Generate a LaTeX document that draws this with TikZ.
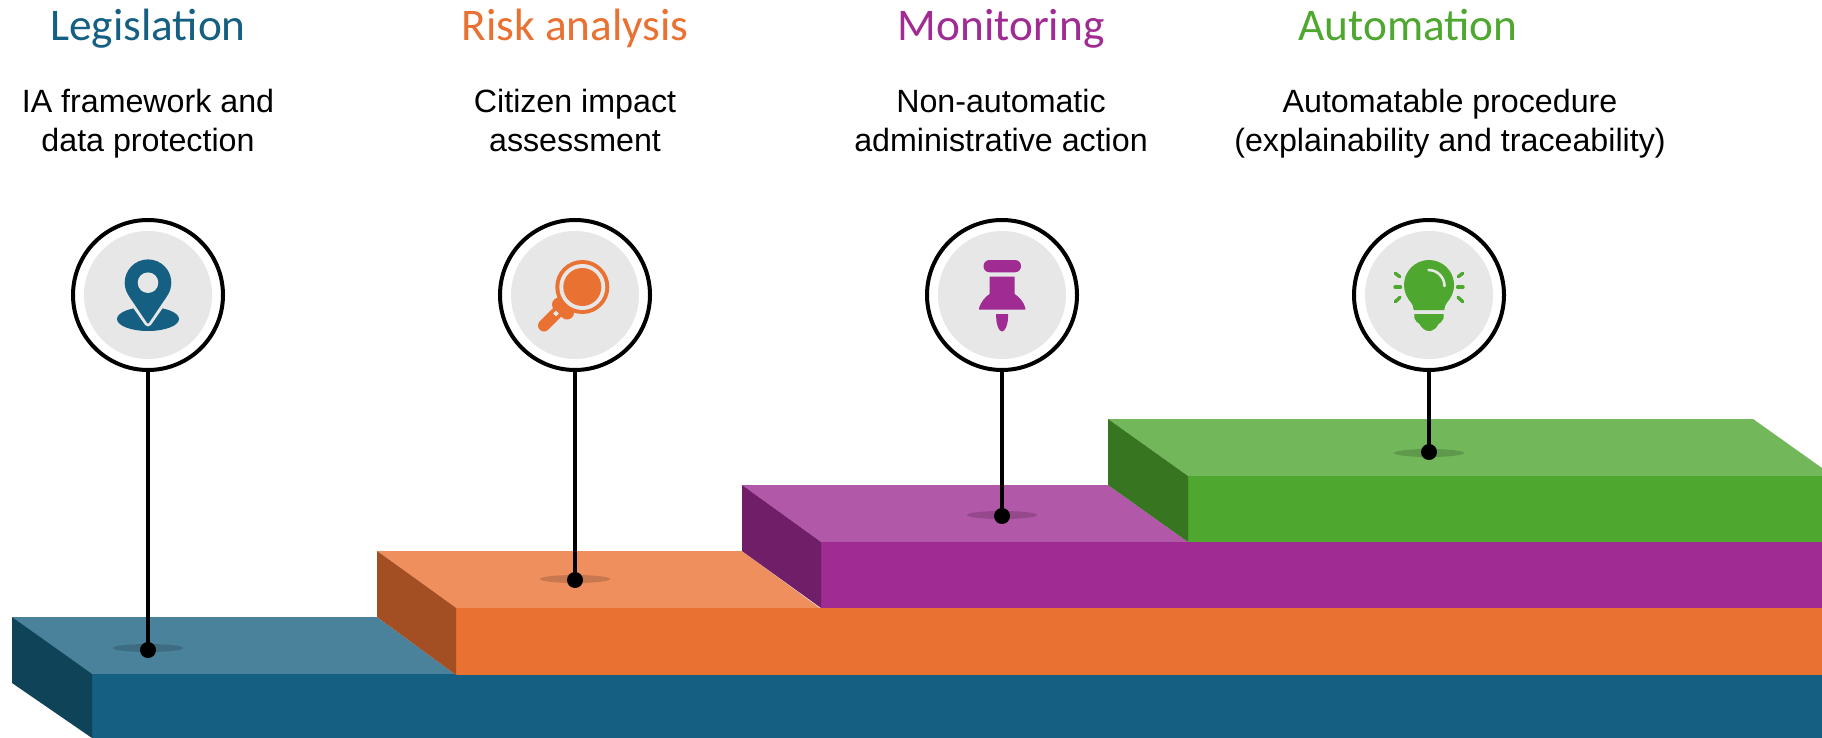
\documentclass[tikz,border=0pt]{standalone}
\usepackage{fontspec}
\setmainfont{Liberation Sans}
\newfontfamily\headfont{Carlito}
\definecolor{cblue}{HTML}{156082}
\definecolor{cbluet}{HTML}{4A829C}
\definecolor{cblued}{HTML}{0F4458}
\definecolor{corange}{HTML}{E97132}
\definecolor{coranget}{HTML}{EF8F5D}
\definecolor{coranged}{HTML}{A34F23}
\definecolor{cpurple}{HTML}{A02B93}
\definecolor{cpurplet}{HTML}{B258A8}
\definecolor{cpurpled}{HTML}{701E67}
\definecolor{cgreen}{HTML}{4EA72E}
\definecolor{cgreent}{HTML}{72B85B}
\definecolor{cgreend}{HTML}{377520}
\definecolor{cgrey}{HTML}{E7E7E7}
\tikzset{
  x=1pt,y=-1pt,
  ring/.style={circle,draw=black,fill=white,line width=4pt,minimum size=150pt,inner sep=0pt},
  disc/.style={circle,fill=cgrey,minimum size=128pt,inner sep=0pt},
  dot/.style={circle,fill=black,minimum size=16pt,inner sep=0pt},
  stem/.style={draw=black,line width=4pt},
  spot/.style={fill=black,fill opacity=.16},
  head/.style={font=\headfont\fontsize{45.3}{45}\selectfont,inner sep=0pt,anchor=base},
  sub/.style={font=\fontsize{32.2}{39}\selectfont,align=center,inner sep=0pt,anchor=base},
  ray/.style={line width=3.4pt,line cap=round},
}
\begin{document}
\begin{tikzpicture}
\useasboundingbox (0,0) rectangle (1822,738);
% steps
\fill[cbluet] (12,617)--(377,617)--(456,675)--(92,675)--cycle;
\fill[cblue] (92,674)--(1822,674)--(1822,738)--(92,738)--cycle;
\fill[cblued] (12,617)--(92,674)--(92,738)--(12,683)--cycle;
\fill[coranget] (377,551)--(742,551)--(821,609)--(456,609)--cycle;
\fill[corange] (456,608)--(1822,608)--(1822,675)--(456,675)--cycle;
\fill[coranged] (377,551)--(456,608)--(456,675)--(377,617)--cycle;
\fill[cpurplet] (742,485)--(1108,485)--(1188,542)--(821,542)--cycle;
\fill[cpurple] (821,542)--(1822,542)--(1822,608)--(821,608)--cycle;
\fill[cpurpled] (742,485)--(821,542)--(821,608)--(742,551)--cycle;
\fill[cgreent] (1108,419)--(1753,419)--(1822,468)--(1822,476)--(1188,476)--cycle;
\fill[cgreen] (1188,476)--(1822,476)--(1822,542)--(1188,542)--cycle;
\fill[cgreend] (1108,419)--(1188,476)--(1188,542)--(1108,485)--cycle;
% shadows
\fill[spot] (148,648) ellipse [x radius=35,y radius=4];
\fill[spot] (575,579) ellipse [x radius=35,y radius=4];
\fill[spot] (1002,515) ellipse [x radius=35,y radius=4];
\fill[spot] (1429,453) ellipse [x radius=35,y radius=4];
% markers
\node[ring] (r1) at (148,295) {};
\node[ring] (r2) at (575,295) {};
\node[ring] (r3) at (1002,295) {};
\node[ring] (r4) at (1429,295) {};
\node[dot] (d1) at (148,650) {};
\node[dot] (d2) at (575,580) {};
\node[dot] (d3) at (1002,516) {};
\node[dot] (d4) at (1429,452) {};
\draw[stem] (r1.south) -- (d1.center);
\draw[stem] (r2.south) -- (d2.center);
\draw[stem] (r3.south) -- (d3.center);
\draw[stem] (r4.south) -- (d4.center);
\node[disc] (g1) at (148,295) {};
\node[disc] (g2) at (575,295) {};
\node[disc] (g3) at (1002,295) {};
\node[disc] (g4) at (1429,295) {};
% pin icon
\begin{scope}[shift={(148,295)}]
  \fill[cblue] (0,24) ellipse [x radius=31,y radius=12];
  \path[draw=cgrey,line width=7pt,line join=round] (0,-12.3)++(146:23) arc[start angle=146,end angle=394,radius=23] -- (0,28) -- cycle;
  \path[fill=cblue,draw=cblue,line width=2pt,line join=round] (0,-12.3)++(146:22.3) arc[start angle=146,end angle=394,radius=22.3] -- (0,27.5) -- cycle;
  \fill[cgrey] (0,-12.3) circle[radius=10.3];
\end{scope}
% magnifier icon
\begin{scope}[shift={(575,295)}]
  \draw[corange,line width=12pt,line cap=round] (-19,18.5) -- (-31,30.5);
  \draw[corange,line width=14pt,line cap=round] (-16,9.5) -- (-8,17.5);
  \fill[corange] (7.3,-8) circle[radius=27];
  \fill[cgrey] (7.3,-8) circle[radius=23];
  \fill[corange] (7.3,-8) circle[radius=19];
  \fill[cgrey] (-19,15.7)--(-16.2,18.5)--(-19,21.3)--(-21.8,18.5)--cycle;
\end{scope}
% pushpin icon
\begin{scope}[shift={(1002,295)}]
  \fill[cpurple,rounded corners=6pt] (-18.5,-35) rectangle (19,-22.7);
  \fill[cpurple] (-12.5,-18.3) -- (12.7,-18.3) -- (12.7,-1)
     .. controls (17,2) and (22,7) .. (23.3,13) -- (23.3,14.5) -- (-23,14.5) -- (-23,13)
     .. controls (-21,7) and (-17,2) .. (-12.5,-1) -- cycle;
  \fill[cpurple] (-5.8,19) -- (6,19) -- (6,22)
     .. controls (6,30) and (3,36.5) .. (0,36.5)
     .. controls (-3,36.5) and (-5.8,30) .. (-5.8,22) -- cycle;
\end{scope}
% bulb icon
\begin{scope}[shift={(1429,295)}]
  \fill[cgreen] (0,-10)++(145:25) arc[start angle=145,end angle=395,radius=25]
     .. controls (16,10) and (15.3,12) .. (15.3,15) -- (-15.3,15)
     .. controls (-15.3,12) and (-16,10) .. (-20.5,4.3) -- cycle;
  \fill[cgreen] (-14.7,19) -- (14.7,19) -- (14.7,23)
     .. controls (14,26) and (11,28) .. (9.5,29)
     .. controls (7.5,33) and (4,36) .. (0,36)
     .. controls (-4,36) and (-7.5,33) .. (-9.5,29)
     .. controls (-11,28) and (-14,26) .. (-14.7,23) -- cycle;
  \draw[cgrey,line width=2.6pt,line cap=round] (-0.5,-25) arc[start angle=-90,end angle=0,radius=16];
  \draw[cgreen,ray] (-33.7,-21.7) -- (-29.3,-18.3);
  \draw[cgreen,ray] (-34,-8) -- (-28.5,-8);
  \draw[cgreen,ray] (-33.7,6.7) -- (-29,2.3);
  \draw[cgreen,ray] (33.7,-21.7) -- (29.3,-18.3);
  \draw[cgreen,ray] (34,-8) -- (28.5,-8);
  \draw[cgreen,ray] (33.7,6.7) -- (29,2.3);
\end{scope}
% headings
\node[head,text=cblue] (h1) at (148,41) {Legislation};
\node[head,text=corange] (h2) at (575,41) {Risk analysis};
\node[head,text=cpurple] (h3) at (1001,41) {Monitoring};
\node[head,text=cgreen] (h4) at (1408,41) {Automation};
% descriptions
\node[sub] (t1) at (148,152) {IA framework and\\data protection};
\node[sub] (t2) at (575,152) {Citizen impact\\assessment};
\node[sub] (t3) at (1001,152) {Non-automatic\\administrative action};
\node[sub] (t4) at (1450,152) {Automatable procedure\\(explainability and traceability)};
\end{tikzpicture}
\end{document}
